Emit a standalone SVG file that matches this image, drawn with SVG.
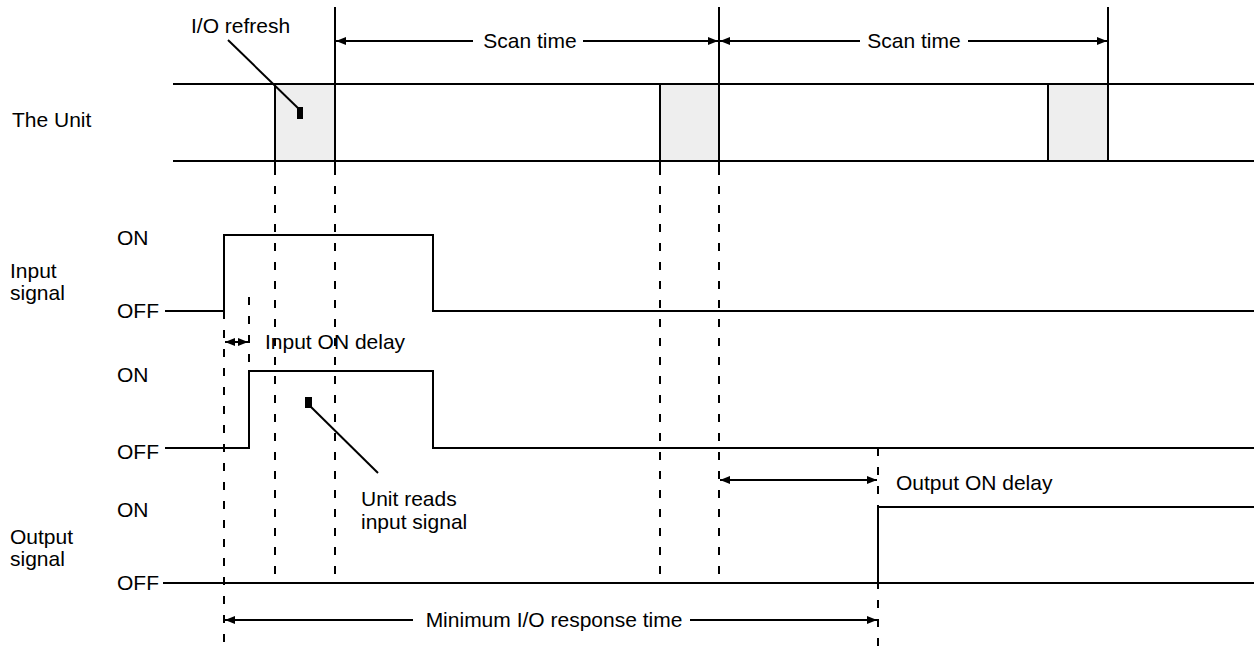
<svg xmlns="http://www.w3.org/2000/svg" width="1254" height="647" viewBox="0 0 1254 647">
<style>
text{font-family:"Liberation Sans",Arial,sans-serif;font-size:21px;fill:#000}
.c{text-anchor:middle}
.s{stroke:#000;stroke-width:2;fill:none}
.d{stroke:#000;stroke-width:2;fill:none;stroke-dasharray:8 11}
.box{fill:#eeeeee;stroke:#000;stroke-width:2}
</style>
<defs>
<marker id="ah" viewBox="0 0 10 8" refX="10" refY="4" markerWidth="10" markerHeight="8" markerUnits="userSpaceOnUse" orient="auto-start-reverse">
<path d="M0,0 L10,4 L0,8 z" fill="#000"/>
</marker>
</defs>
<rect width="1254" height="647" fill="#fff"/>
<g id="unit">
<rect class="box" x="275" y="84" width="60" height="77"/>
<rect class="box" x="660" y="84" width="59" height="77"/>
<rect class="box" x="1048" y="84" width="60" height="77"/>
<line class="s" x1="173" y1="84" x2="1254" y2="84"/>
<line class="s" x1="173" y1="161" x2="1254" y2="161"/>
<line class="s" x1="335" y1="7" x2="335" y2="167"/>
<line class="s" x1="719" y1="7" x2="719" y2="167"/>
<line class="s" x1="1108" y1="7" x2="1108" y2="161"/>
<line class="s" x1="275" y1="161" x2="275" y2="167"/>
<line class="s" x1="660" y1="161" x2="660" y2="167"/>
<text x="12" y="127">The Unit</text>
</g>
<g id="io-refresh">
<text x="191" y="33">I/O refresh</text>
<line class="s" x1="228" y1="40" x2="300" y2="110"/>
<rect x="297" y="107" width="6" height="12" fill="#000"/>
</g>
<g id="input-signal">
<text x="10" y="278">Input</text>
<text x="10" y="300">signal</text>
<text x="117" y="245">ON</text>
<text x="117" y="318">OFF</text>
<polyline class="s" points="165,311 224,311 224,235 433,235 433,311 1254,311"/>
</g>
<g id="unit-input">
<text x="117" y="382">ON</text>
<text x="117" y="459">OFF</text>
<polyline class="s" points="165,448 249,448 249,371 433,371 433,448 1254,448"/>
</g>
<g id="unit-reads">
<rect x="305" y="397" width="7" height="11" fill="#000"/>
<line class="s" x1="310" y1="406" x2="378" y2="473"/>
<text x="361" y="506">Unit reads</text>
<text x="361" y="529">input signal</text>
</g>
<g id="output-signal">
<text x="10" y="544">Output</text>
<text x="10" y="566">signal</text>
<text x="117" y="517">ON</text>
<text x="117" y="590">OFF</text>
<line class="s" x1="163" y1="583" x2="1254" y2="583"/>
<polyline class="s" points="878,583 878,507 1254,507"/>
</g>
<g id="connectors">
<line class="d" x1="275" y1="167" x2="275" y2="583"/>
<line class="d" x1="335" y1="167" x2="335" y2="583"/>
<line class="d" x1="660" y1="167" x2="660" y2="583"/>
<line class="d" x1="719" y1="167" x2="719" y2="583"/>
<line class="d" x1="224" y1="311" x2="224" y2="647"/>
<line class="d" x1="249" y1="297" x2="249" y2="371"/>
<line class="d" x1="878" y1="448" x2="878" y2="647"/>
<line class="s" x1="473" y1="41" x2="336" y2="41" marker-end="url(#ah)"/>
<line class="s" x1="583" y1="41" x2="718" y2="41" marker-end="url(#ah)"/>
<line class="s" x1="860" y1="41" x2="720" y2="41" marker-end="url(#ah)"/>
<line class="s" x1="968" y1="41" x2="1107" y2="41" marker-end="url(#ah)"/>
<text class="c" x="530" y="48">Scan time</text>
<text class="c" x="914" y="48">Scan time</text>
<line class="s" x1="225" y1="342" x2="248" y2="342" marker-start="url(#ah)" marker-end="url(#ah)"/>
<text x="265" y="349">Input ON delay</text>
<line class="s" x1="720" y1="480" x2="877" y2="480" marker-start="url(#ah)" marker-end="url(#ah)"/>
<text x="896" y="490">Output ON delay</text>
<line class="s" x1="413" y1="620" x2="225" y2="620" marker-end="url(#ah)"/>
<line class="s" x1="690" y1="620" x2="877" y2="620" marker-end="url(#ah)"/>
<text class="c" x="554" y="627">Minimum I/O response time</text>
</g>
</svg>
